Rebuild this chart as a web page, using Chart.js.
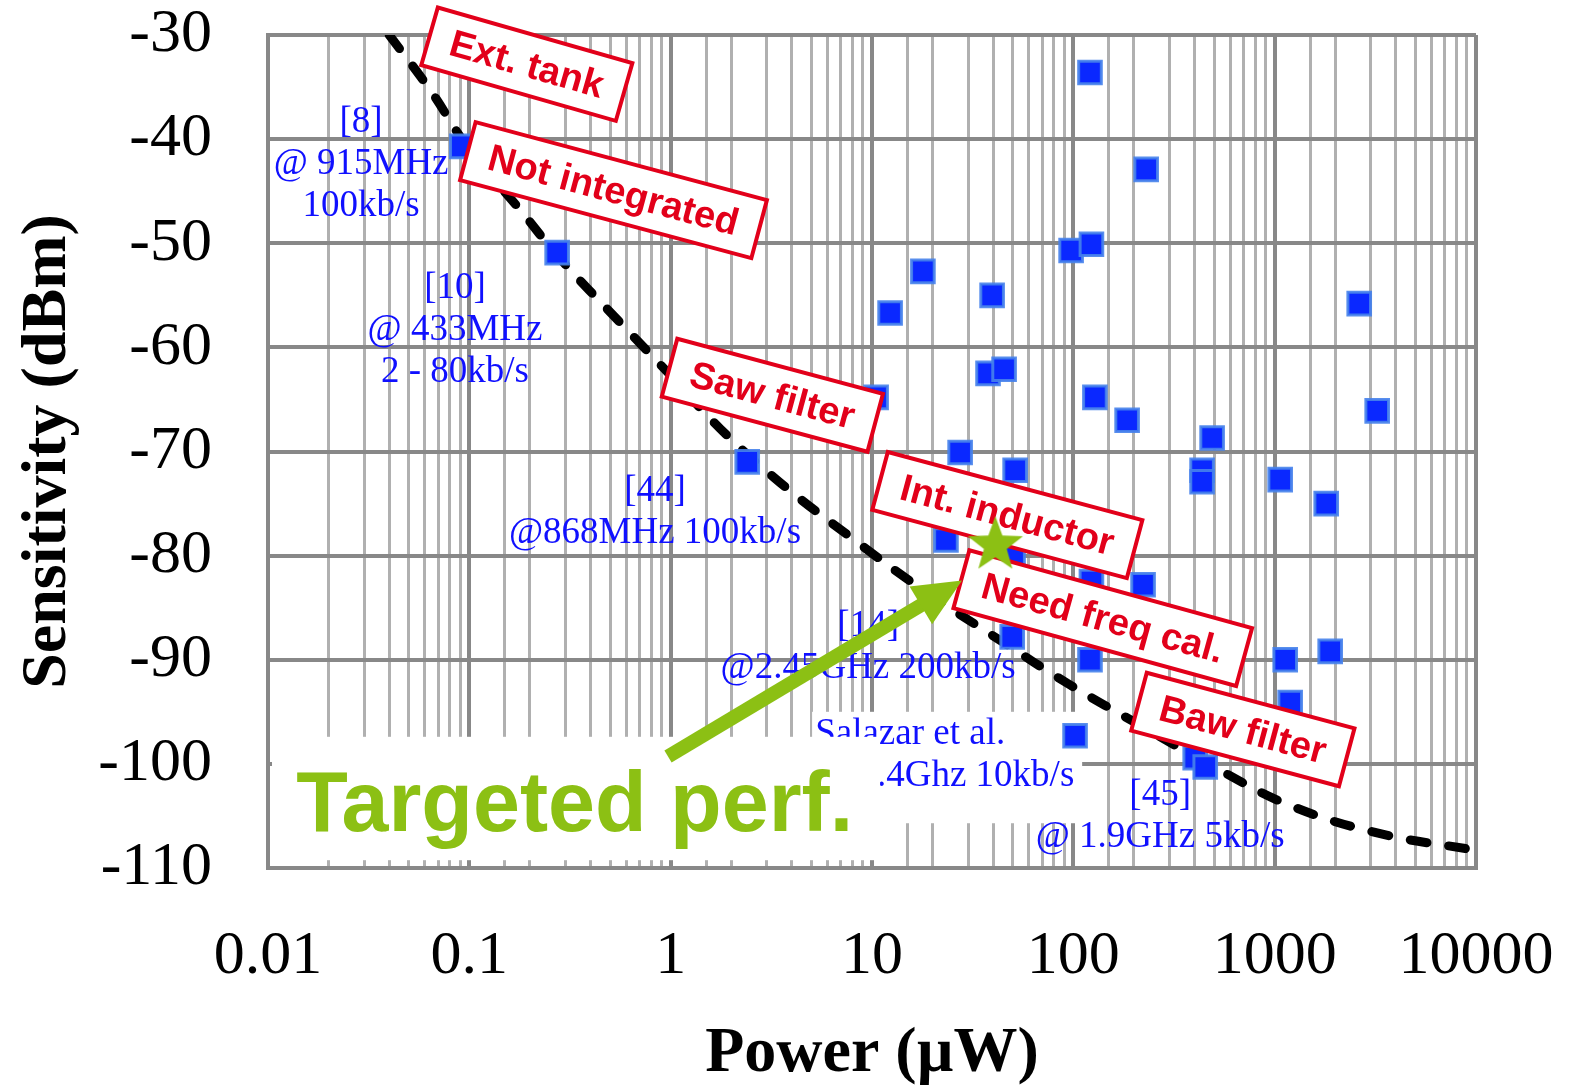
<!DOCTYPE html>
<html>
<head>
<meta charset="utf-8">
<script src="https://cdn.jsdelivr.net/npm/chart.js@4.4.1/dist/chart.umd.min.js"></script>
<style>
  html, body { margin: 0; padding: 0; background: #fff; }
</style>
</head>
<body>
<canvas id="myChart" width="1574" height="1088"></canvas>
<script>
// published receivers: power (uW) vs sensitivity (dBm)
const powerUW = [0.0918, 0.273, 2.40, 10.48, 12.3, 17.9, 39.5, 37.7, 45.3, 27.4, 51.4, 23.3, 50.2, 49.7,
  121, 230, 97.5, 123, 128, 185, 436, 436, 489, 1065, 1803, 2630, 3230,
  222, 123, 121, 1128, 1887, 1194, 102, 403, 452];
const sensDBm = [-40.7, -50.9, -71.0, -64.8, -56.7, -52.7, -55.0, -62.5, -62.1, -70.1, -71.8, -78.5, -80.0, -87.8,
  -33.6, -42.9, -50.7, -50.1, -64.8, -67.0, -71.8, -72.9, -68.7, -72.7, -75.0, -55.8, -66.1,
  -82.8, -82.5, -90.0, -90.0, -89.2, -94.1, -97.3, -99.4, -100.3];

// dashed trend curve
const curvePower = [0.04, 0.064, 0.1, 0.179, 0.28, 0.56, 1.0, 1.76, 3.5, 7.8, 17.3, 43, 96, 215, 479, 1194, 3344, 10000];
const curveSens = [-30, -35.3, -41.0, -46.8, -51.4, -57.6, -62.7, -67.8, -73.0, -78.2, -83.1, -88.1, -92.4, -96.3, -100.1, -104.0, -106.7, -108.3];

// targeted performance
const targetPower = [41];
const targetSens = [-79];

const xTickLabels = ['0.01', '0.1', '1', '10', '100', '1000', '10000'];
const yTicks = [-30, -40, -50, -60, -70, -80, -90, -100, -110];

// red boxes
const boxTexts = ['Ext. tank', 'Not integrated', 'Saw filter', 'Int. inductor', 'Need freq cal.', 'Baw filter'];
const boxPower = [0.193, 0.52, 3.2, 47, 140, 695];
const boxSens = [-32.8, -44.9, -64.6, -76.1, -86.0, -96.7];
const boxAngle = [16, 15, 15, 15, 15.4, 15];

// blue reference notes
const noteLines = [['[8]', '@ 915MHz', '100kb/s'], ['[10]', '@ 433MHz', '2 - 80kb/s'], ['[44]', '@868MHz 100kb/s'],
  ['[14]', '@2.45GHz 200kb/s'], ['Salazar et al.', '@ 2.4Ghz 10kb/s'], ['[45]', '@ 1.9GHz 5kb/s']];
const notePower = [0.029, 0.0849, 0.836, 9.57, 5.22, 270];
const noteSens = [-38.4, -54.3, -73.8, -86.8, -97.2, -103.0];
const noteAlign = ['center', 'center', 'center', 'center', 'left', 'center'];

const RED = '#e2001a';
const GREEN = '#8cc014';
const BLUE = '#1010ff';

const isDecade = v => Math.abs(Math.log10(v) - Math.round(Math.log10(v))) < 1e-6;

// star marker
const starImg = document.createElement('canvas');
starImg.width = 64; starImg.height = 64;
(function () {
  const c = starImg.getContext('2d');
  c.fillStyle = GREEN;
  c.beginPath();
  for (let i = 0; i < 10; i++) {
    const r = i % 2 === 0 ? 29 : 12;
    const a = -Math.PI / 2 + i * Math.PI / 5;
    c.lineTo(32 + r * Math.cos(a), 32 + r * Math.sin(a));
  }
  c.closePath();
  c.fill();
})();

function pix(chart, x, y) {
  return [chart.scales.x.getPixelForValue(x), chart.scales.y.getPixelForValue(y)];
}

const extras = {
  id: 'extras',
  beforeDatasetsDraw(chart) {
    // white backing behind the Salazar note
    const ctx = chart.ctx;
    const [a, b] = pix(chart, 5.04, -95.0);
    const [c, d] = pix(chart, 110.6, -105.7);
    ctx.save();
    ctx.fillStyle = '#fff';
    ctx.fillRect(a, b, c - a, d - b);
    ctx.restore();
  },
  beforeDatasetDraw(chart, args) {
    if (args.index !== 2) return;
    const ctx = chart.ctx;
    ctx.save();
    // blue notes
    ctx.fillStyle = BLUE;
    ctx.font = '37px "Liberation Serif", "Times New Roman", serif';
    ctx.textBaseline = 'middle';
    noteLines.forEach((lines, i) => {
      const [x, y] = pix(chart, notePower[i], noteSens[i]);
      ctx.textAlign = noteAlign[i];
      lines.forEach((t, k) => ctx.fillText(t, x, y + k * 42));
    });
    // targeted perf box + text
    const [a, b] = pix(chart, 0.01047, -97.4);
    const [c, d] = pix(chart, 10.97, -109.25);
    ctx.fillStyle = '#fff';
    ctx.fillRect(a, b, c - a, d - b);
    const [tx, ty] = pix(chart, 0.0138, -106.4);
    ctx.fillStyle = GREEN;
    ctx.font = 'bold 86px "Liberation Sans", Arial, sans-serif';
    ctx.textAlign = 'left';
    ctx.textBaseline = 'alphabetic';
    const w = ctx.measureText('Targeted perf.').width;
    ctx.save();
    ctx.translate(tx, ty);
    ctx.scale(557 / w, 1);
    ctx.fillText('Targeted perf.', 0, 0);
    ctx.restore();
    // red boxes
    ctx.font = 'bold 38px "Liberation Sans", Arial, sans-serif';
    ctx.textAlign = 'center';
    ctx.textBaseline = 'middle';
    boxTexts.forEach((t, i) => {
      const [x, y] = pix(chart, boxPower[i], boxSens[i]);
      const bw = ctx.measureText(t).width + 44;
      const bh = 60;
      ctx.save();
      ctx.translate(x, y);
      ctx.rotate(boxAngle[i] * Math.PI / 180);
      ctx.fillStyle = '#fff';
      ctx.fillRect(-bw / 2, -bh / 2, bw, bh);
      ctx.strokeStyle = RED;
      ctx.lineWidth = 4;
      ctx.strokeRect(-bw / 2, -bh / 2, bw, bh);
      ctx.fillStyle = RED;
      ctx.fillText(t, 0, 2);
      ctx.restore();
    });
    // green arrow
    const [x0, y0] = pix(chart, 0.97, -99.3);
    const [x1, y1] = pix(chart, 28, -82.4);
    const ang = Math.atan2(y1 - y0, x1 - x0);
    const len = Math.hypot(x1 - x0, y1 - y0);
    ctx.save();
    ctx.translate(x0, y0);
    ctx.rotate(ang);
    ctx.fillStyle = GREEN;
    ctx.fillRect(0, -7, len - 44, 14);
    ctx.beginPath();
    ctx.moveTo(len, 0);
    ctx.lineTo(len - 48, -22);
    ctx.lineTo(len - 48, 22);
    ctx.closePath();
    ctx.fill();
    ctx.restore();
    ctx.restore();
  }
};

const config = {
  type: 'scatter',
  data: {
    datasets: [
      {
        label: 'Receivers',
        data: powerUW.map((p, i) => ({ x: p, y: sensDBm[i] })),
        pointStyle: 'rect',
        pointRadius: 16,
        backgroundColor: '#0a28ff',
        borderColor: 'rgba(70,130,235,0.9)',
        borderWidth: 3,
        order: 2
      },
      {
        label: 'Trend',
        data: curvePower.map((p, i) => ({ x: p, y: curveSens[i] })),
        showLine: true,
        tension: 0.4,
        borderColor: '#000',
        borderWidth: 9,
        borderDash: [17, 22],
        borderCapStyle: 'round',
        pointRadius: 0,
        order: 3
      },
      {
        label: 'Target',
        data: targetPower.map((p, i) => ({ x: p, y: targetSens[i] })),
        pointStyle: starImg,
        pointRadius: 30,
        order: 0
      }
    ]
  },
  options: {
    responsive: false,
    animation: false,
    layout: { padding: { top: 35, right: 98, left: 0, bottom: 0 } },
    plugins: { legend: { display: false }, tooltip: { enabled: false } },
    scales: {
      x: {
        type: 'logarithmic',
        min: 0.01,
        max: 10000,
        afterFit(s) { s.height = 220; s.paddingLeft = 0; s.paddingRight = 0; },
        border: { color: '#888', width: 4 },
        grid: {
          drawTicks: false,
          color: c => (c.tick && isDecade(c.tick.value)) ? '#888' : '#b0b0b0',
          lineWidth: c => (c.tick && isDecade(c.tick.value)) ? 4 : 3
        },
        ticks: {
          autoSkip: false,
          maxRotation: 0,
          padding: 52,
          color: '#000',
          font: { family: '"Liberation Serif", "Times New Roman", serif', size: 62 },
          callback: v => isDecade(v) ? xTickLabels[Math.round(Math.log10(v)) + 2] : ''
        },
        title: {
          display: true,
          text: 'Power (µW)',
          color: '#000',
          padding: { top: 0, bottom: 2 },
          font: { family: '"Liberation Serif", "Times New Roman", serif', size: 64, weight: 'bold', lineHeight: 1.0 }
        }
      },
      y: {
        min: -110,
        max: -30,
        afterFit(s) { s.width = 268; s.paddingTop = 0; s.paddingBottom = 0; },
        afterBuildTicks(s) { s.ticks = yTicks.map(v => ({ value: v })); },
        border: { color: '#888', width: 4 },
        grid: { drawTicks: false, color: '#888', lineWidth: 4 },
        ticks: {
          padding: 56,
          color: '#000',
          font: { family: '"Liberation Serif", "Times New Roman", serif', size: 62 },
          callback: v => String(v)
        },
        title: {
          display: true,
          text: 'Sensitivity (dBm)',
          color: '#000',
          padding: { top: 10, bottom: 0 },
          font: { family: '"Liberation Serif", "Times New Roman", serif', size: 64, weight: 'bold' }
        }
      }
    }
  },
  plugins: [extras]
};

const myChart = new Chart(document.getElementById('myChart'), config);
</script>
</body>
</html>
